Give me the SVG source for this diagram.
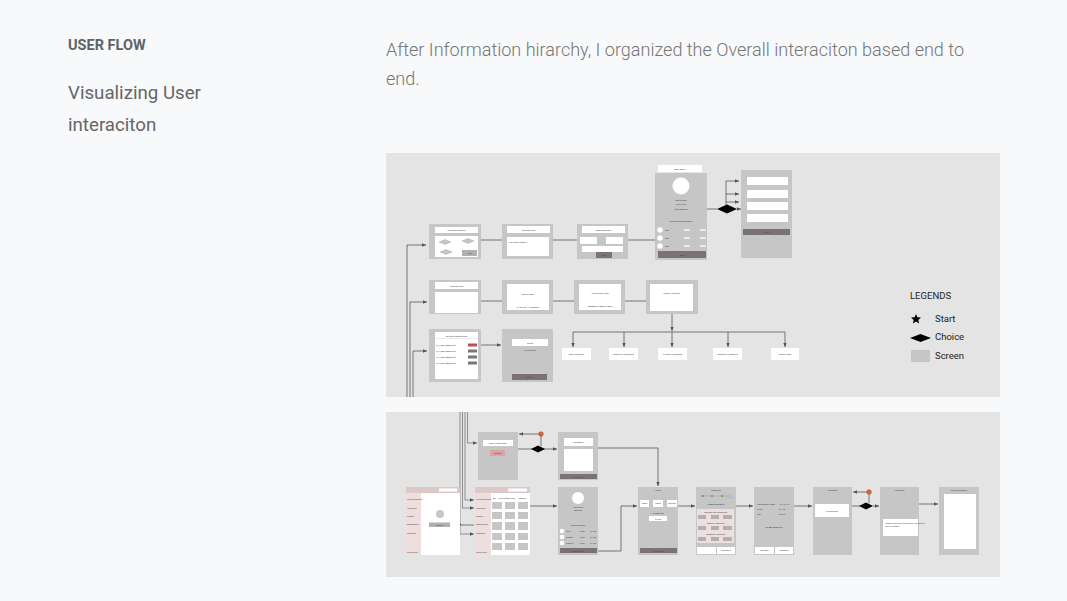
<svg xmlns="http://www.w3.org/2000/svg" width="1067" height="601" viewBox="0 0 1067 601">
<style>
.bg{fill:#f8f9fa}
.pnl{fill:#e4e4e4}
.scr{fill:#c6c6c6}
.wh{fill:#fff}
.btn{fill:#7b7373}
.pk{fill:#efdede}
.pk2{fill:#dcc8c8}
.g{fill:#b0b0b0}
.ln{stroke:#555;stroke-width:0.8;fill:none}
.lna{stroke:#555;stroke-width:0.8;fill:none;marker-end:url(#ah)}
.lnt{stroke:#555;stroke-width:0.6;fill:none;marker-end:url(#ah)}
.dia{fill:#000}
.t{font-family:Roboto,"Liberation Sans",sans-serif;font-size:2.4px;fill:#444;text-anchor:middle}
.tl{font-family:Roboto,"Liberation Sans",sans-serif;font-size:2.4px;fill:#444}
.lg{font-family:Roboto,"Liberation Sans",sans-serif;font-size:9.5px;fill:#222}
.hd{font-family:Roboto,"Liberation Sans",sans-serif}
</style>
<defs>
<marker id="ah" markerWidth="5" markerHeight="5" refX="4" refY="2.5" orient="auto" markerUnits="userSpaceOnUse">
<path d="M0,0.8 L4,2.5 L0,4.2 Z" fill="#555"/>
</marker>
</defs>
<rect class="bg" x="0" y="0" width="1067" height="601"/>
<g id="header">
<text class="hd" x="68" y="50" font-size="14.5" font-weight="bold" fill="#5f6368">USER FLOW</text>
<text class="hd" x="68" y="99" font-size="18.7" fill="#666">Visualizing User</text>
<text class="hd" x="68" y="131" font-size="18.7" fill="#666">interaciton</text>
<text class="hd" x="386" y="56" font-size="18.05" font-weight="300" fill="#757575">After Information hirarchy, I organized the Overall interaciton based end to</text>
<text class="hd" x="386" y="85" font-size="18.05" font-weight="300" fill="#757575">end.</text>
</g>
<rect class="pnl" x="386" y="153" width="614" height="244"/>
<rect class="pnl" x="386" y="412" width="614" height="165"/>

<g id="connectors">
<path class="lna" d="M407,397 V245 H426"/>
<path class="lna" d="M410,397 V302 H427"/>
<path class="lna" d="M413,397 V351 H427"/>
<path class="ln" d="M481,240 H502"/>
<path class="ln" d="M553,240 H577"/>
<path class="ln" d="M628,240 H655"/>
<path class="ln" d="M692,209 H717"/>
<path class="lna" d="M737,209 H741"/>
<path class="ln" d="M726,205 V181"/>
<path class="lna" d="M726,181 H739"/>
<path class="lna" d="M726,194 H739"/>
<path class="lna" d="M726,202 H739"/>
<path class="ln" d="M481,301 H502"/>
<path class="ln" d="M553,301 H574"/>
<path class="ln" d="M625,301 H646"/>
<path class="lna" d="M672,314 V331"/>
<path class="ln" d="M573,332 H785"/>
<path class="lna" d="M573,332 V347"/>
<path class="lna" d="M624,332 V347"/>
<path class="lna" d="M672,332 V347"/>
<path class="lna" d="M728,332 V347"/>
<path class="lna" d="M785,332 V347"/>
<path class="lna" d="M477,345 H501"/>
<path class="lnt" d="M460,412 V534 H474"/>
<path class="lnt" d="M462.5,412 V508 H474"/>
<path class="lnt" d="M465,412 V500 H474"/>
<path class="lnt" d="M467.5,412 V443 H477"/>
<path class="ln" d="M459,525 H474" stroke-width="0.6"/>
<path class="ln" d="M518,449 H533"/>
<path class="lna" d="M543,449 H557"/>
<path class="ln" d="M541,446 V434"/>
<path class="lna" d="M541,434 H519"/>
<path class="lna" d="M598,448 H658 V486"/>
<path class="lna" d="M530,506 H557"/>
<path class="lna" d="M598,551 H621 V506 H637"/>
<path class="lna" d="M678,506 H695"/>
<path class="lna" d="M736,506 H753"/>
<path class="lna" d="M794,506 H812"/>
<path class="ln" d="M852,506 H860"/>
<path class="lna" d="M873,506 H879"/>
<path class="ln" d="M869,503 V492"/>
<path class="lna" d="M869,492 H853"/>
<path class="lna" d="M919,504 H938"/>
</g>

<g id="diamonds">
<path class="dia" d="M717,209 L727,204.5 L737,209 L727,213.5 Z"/>
<path class="dia" d="M531,449 L538,445.5 L545,449 L538,452.5 Z"/>
<path class="dia" d="M859,506 L866,502.5 L873,506 L866,509.5 Z"/>
<circle cx="541" cy="434" r="2.3" fill="#d9663a" stroke="#a04020" stroke-width="0.5"/>
<circle cx="869" cy="492" r="2.3" fill="#d9663a" stroke="#a04020" stroke-width="0.5"/>
<path id="star1" d="M457,521 L458.2,523.8 L461.2,524 L458.9,526 L459.6,529 L457,527.4 L454.4,529 L455.1,526 L452.8,524 L455.8,523.8 Z" fill="#000"/>
</g>

<g id="n-personal">
<rect class="scr" x="429" y="224" width="52" height="35"/>
<rect class="wh" x="435" y="227" width="43" height="6"/>
<text class="t" x="456.5" y="231">Personal Options</text>
<rect class="wh" x="435" y="236" width="43" height="21"/>
<path d="M439,242 L445,239.5 L451,242 L445,244.5 Z" fill="#c6c6c6" stroke="#888" stroke-width="0.3"/>
<path d="M462,241 L468,238.5 L474,241 L468,243.5 Z" fill="#c6c6c6" stroke="#888" stroke-width="0.3"/>
<path d="M440,252 L446,249.5 L452,252 L446,254.5 Z" fill="#c6c6c6" stroke="#888" stroke-width="0.3"/>
<rect class="g" x="462" y="250" width="15" height="6"/>
<text class="t" x="469.5" y="254">add</text>
</g>
<g id="n-setgoals">
<rect class="scr" x="502" y="224" width="51" height="35"/>
<rect class="wh" x="507" y="226" width="43" height="7"/>
<text class="t" x="528.5" y="230.5">Set Business</text>
<rect class="wh" x="507" y="237" width="42" height="19"/>
<text class="tl" x="509" y="243">Set Goals Option</text>
</g>
<g id="n-addoption">
<rect class="scr" x="577" y="224" width="51" height="35"/>
<rect class="wh" x="582" y="226" width="43" height="7"/>
<text class="t" x="603.5" y="230.5">Add Employee</text>
<rect class="wh" x="580" y="237" width="17" height="7"/>
<rect class="wh" x="606" y="237" width="17" height="7"/>
<rect class="wh" x="582" y="246" width="41" height="6"/>
<rect class="btn" x="596" y="252" width="16" height="6"/>
<text class="t" x="604" y="256" fill="#eee">Add</text>
</g>
<g id="n-additems">
<rect class="wh" x="658" y="165" width="44" height="7"/>
<text class="t" x="680" y="169.5">Add Items</text>
<rect class="scr" x="655" y="173" width="52" height="87"/>
<circle class="wh" cx="681" cy="186" r="8.5"/>
<text class="t" x="681" y="201">Edit image</text>
<text class="t" x="681" y="205">Set Price</text>
<text class="t" x="681" y="210">Set Category</text>
<text class="t" x="681" y="222">Set Goals Description</text>
<circle class="wh" cx="660" cy="230" r="2.7"/>
<circle class="wh" cx="660" cy="238" r="2.7"/>
<circle class="wh" cx="660" cy="246" r="2.7"/>
<text class="tl" x="665" y="231">Edit</text>
<text class="tl" x="665" y="239">Edit</text>
<text class="tl" x="665" y="247">Edit</text>
<rect x="684" y="229" width="6" height="2" fill="#f3e6e6"/>
<rect x="684" y="237" width="6" height="2" fill="#f3e6e6"/>
<rect x="684" y="245" width="6" height="2" fill="#f3e6e6"/>
<rect x="700" y="229" width="6" height="2" fill="#f3e6e6"/>
<rect x="700" y="237" width="6" height="2" fill="#f3e6e6"/>
<rect x="700" y="245" width="6" height="2" fill="#f3e6e6"/>
<rect class="btn" x="658" y="251" width="48" height="7"/>
<text class="t" x="682" y="255.5" fill="#eee">Save</text>
</g>
<g id="n-category">
<rect class="scr" x="741" y="170" width="51" height="88"/>
<rect class="wh" x="747" y="177" width="41" height="8"/>
<rect class="wh" x="747" y="190" width="41" height="8"/>
<rect class="wh" x="747" y="202" width="41" height="8"/>
<rect class="wh" x="747" y="214" width="41" height="8"/>
<rect class="btn" x="743" y="229" width="47" height="6"/>
<text class="t" x="766.5" y="233" fill="#eee">Save</text>
</g>

<g id="n-transactions">
<rect class="scr" x="429" y="280" width="52" height="34"/>
<rect class="wh" x="435" y="282" width="43" height="7"/>
<text class="t" x="456.5" y="286.5">Transactions</text>
<rect class="wh" x="435" y="292" width="43" height="21"/>
</g>
<g id="n-gross">
<rect class="scr" x="502" y="280" width="51" height="34"/>
<rect class="wh" x="507" y="284" width="42" height="26"/>
<text class="t" x="528" y="295">Gross Sales</text>
<text class="t" x="528" y="308">$ 453.00 / 4 ORDERS</text>
</g>
<g id="n-topselling">
<rect class="scr" x="574" y="280" width="51" height="34"/>
<rect class="wh" x="579" y="284" width="42" height="26"/>
<text class="t" x="600" y="294">Top Selling Item</text>
<text class="t" x="600" y="307">CARAMEL MACCHIATO</text>
</g>
<g id="n-insights">
<rect class="scr" x="646" y="280" width="52" height="34"/>
<rect class="wh" x="650" y="284" width="43" height="27"/>
<text class="t" x="671.5" y="294">Weekly Insights</text>
</g>
<g id="n-new"><rect class="wh" x="562" y="348" width="29" height="12"/><text class="t" x="576.5" y="355">New Customer</text></g>
<g id="n-returning"><rect class="wh" x="609" y="348" width="29" height="12"/><text class="t" x="623.5" y="355">Returning Customer</text></g>
<g id="n-positive"><rect class="wh" x="658" y="348" width="29" height="12"/><text class="t" x="672.5" y="355">Positive Feedback</text></g>
<g id="n-negative"><rect class="wh" x="713" y="348" width="29" height="12"/><text class="t" x="727.5" y="355">Negative Feedback</text></g>
<g id="n-return"><rect class="wh" x="771" y="348" width="28" height="12"/><text class="t" x="785" y="355">Return Rate</text></g>

<g id="n-recent">
<rect class="scr" x="429" y="329" width="52" height="53"/>
<rect class="wh" x="435" y="332" width="43" height="47"/>
<line x1="435" y1="338.5" x2="478" y2="338.5" stroke="#ccc" stroke-width="0.4"/>
<text class="t" x="456.5" y="336.5">Recent Transactions</text>
<text class="tl" x="436" y="346">$17,000 (Approval)</text>
<text class="tl" x="436" y="352">$17,000 (Approval)</text>
<text class="tl" x="436" y="358">$17,000 (Approval)</text>
<text class="tl" x="436" y="364">$17,000 (Approval)</text>
<rect x="468" y="343.5" width="9" height="3" fill="#c0504d"/>
<rect x="468" y="349.5" width="9" height="3" fill="#777"/>
<rect x="468" y="355.5" width="9" height="3" fill="#777"/>
<rect x="468" y="361.5" width="9" height="3" fill="#777"/>
</g>
<g id="n-refund">
<rect class="scr" x="502" y="329" width="51" height="53"/>
<rect class="wh" x="512" y="339" width="36" height="7"/>
<text class="t" x="530" y="343.5">$0.00</text>
<text class="t" x="530" y="350.5">Full Refund</text>
<rect class="btn" x="512" y="374" width="35" height="6"/>
<text class="t" x="529.5" y="378" fill="#eee">Refund</text>
</g>

<g id="legend">
<text class="lg" x="910" y="299">LEGENDS</text>
<path d="M916,314 L917.4,317.3 L921,317.6 L918.3,319.9 L919.1,323.4 L916,321.6 L912.9,323.4 L913.7,319.9 L911,317.6 L914.6,317.3 Z" fill="#000"/>
<text class="lg" x="935" y="322">Start</text>
<path class="dia" d="M910,338 L920.5,334 L931,338 L920.5,342 Z"/>
<text class="lg" x="935" y="340">Choice</text>
<rect class="scr" x="911" y="350" width="19" height="12"/>
<text class="lg" x="935" y="359">Screen</text>
</g>

<g id="n-home">
<rect class="wh" x="406" y="487" width="54" height="68"/>
<rect class="pk2" x="406" y="487" width="54" height="6"/>
<rect class="wh" x="439" y="488.5" width="18" height="3"/>
<rect class="pk" x="406" y="493" width="15" height="62"/>
<text class="tl" x="407" y="500">Product/Menu</text>
<text class="tl" x="407" y="508.5">Inventory</text>
<text class="tl" x="407" y="517">Orders</text>
<text class="tl" x="407" y="525">Dashboard</text>
<text class="tl" x="407" y="533.5">Settings</text>
<text class="tl" x="407" y="552.5">Check out</text>
<circle cx="440" cy="514" r="4" fill="#c6c6c6"/>
<rect class="g" x="429" y="522.5" width="21" height="4.5"/>
<text class="t" x="439.5" y="525.8">Start it</text>
</g>
<g id="n-products">
<rect class="wh" x="475" y="487" width="55" height="68"/>
<rect class="pk2" x="475" y="487" width="55" height="6"/>
<rect class="wh" x="508" y="488.5" width="19" height="3"/>
<rect class="pk" x="475" y="493" width="16" height="62"/>
<text class="tl" x="476" y="500">Product/Menu</text>
<text class="tl" x="476" y="508.5">Inventory</text>
<text class="tl" x="476" y="517">Orders</text>
<text class="tl" x="476" y="525">Dashboard</text>
<text class="tl" x="476" y="533.5">Settings</text>
<text class="tl" x="476" y="552.5">Check out</text>
<text class="tl" x="493" y="499">All</text>
<text class="tl" x="498" y="499">Hot Coffee</text>
<text class="tl" x="510" y="499">Cold</text>
<text class="tl" x="519" y="499">Bakery</text>
<g fill="#c6c6c6">
<rect x="492" y="502" width="10" height="7"/><rect x="505" y="502" width="10" height="7"/><rect x="518" y="502" width="10" height="7"/>
<rect x="492" y="512" width="10" height="7"/><rect x="505" y="512" width="10" height="7"/><rect x="518" y="512" width="10" height="7"/>
<rect x="492" y="522" width="10" height="8"/><rect x="505" y="522" width="10" height="8"/><rect x="518" y="522" width="10" height="8"/>
<rect x="492" y="533" width="10" height="7"/><rect x="505" y="533" width="10" height="7"/><rect x="518" y="533" width="10" height="7"/>
<rect x="492" y="543" width="10" height="7"/><rect x="505" y="543" width="10" height="7"/><rect x="518" y="543" width="10" height="7"/>
</g>
</g>
<g id="n-editprofile">
<rect class="scr" x="478" y="432" width="40" height="48"/>
<rect class="wh" x="483" y="440" width="30" height="6"/>
<text class="t" x="498" y="444">Edit Profile Data</text>
<rect x="490" y="450" width="15" height="6" fill="#d9a3a3"/>
<text class="t" x="497.5" y="454" fill="#fff">Update</text>
</g>
<g id="n-summary">
<rect class="scr" x="558" y="432" width="40" height="48"/>
<rect class="wh" x="564" y="438" width="29" height="8"/>
<text class="t" x="578.5" y="442.5">Summary</text>
<rect class="wh" x="564" y="449" width="29" height="22"/>
<rect class="btn" x="560" y="474" width="37" height="5"/>
<text class="t" x="578.5" y="477.5" fill="#eee">Continue</text>
</g>
<g id="n-profile">
<rect class="scr" x="558" y="487" width="40" height="68"/>
<circle class="wh" cx="578" cy="498" r="6"/>
<text class="t" x="578" y="508">Jane Doe</text>
<text class="t" x="578" y="511">Barista</text>
<text class="t" x="578" y="526">Choose Sizes</text>
<circle class="wh" cx="562" cy="531" r="2.3"/>
<circle class="wh" cx="562" cy="537" r="2.3"/>
<circle class="wh" cx="562" cy="543" r="2.3"/>
<text class="tl" x="566" y="532">Milk</text>
<text class="tl" x="566" y="538">Sweet</text>
<text class="tl" x="566" y="544">Shot(s)</text>
<text class="tl" x="580" y="532">0.00</text>
<text class="tl" x="580" y="538">0.00</text>
<text class="tl" x="580" y="544">0.00</text>
<text class="tl" x="590" y="532">$1.00</text>
<text class="tl" x="590" y="538">$1.00</text>
<text class="tl" x="590" y="544">$1.00</text>
<rect class="btn" x="560" y="548" width="37" height="5"/>
<text class="t" x="578.5" y="551.5" fill="#eee">Add to cart</text>
</g>
<g id="n-shop">
<rect class="scr" x="638" y="487" width="40" height="68"/>
<text class="t" x="658" y="491">Shop</text>
<rect class="wh" x="640" y="500" width="9" height="7"/>
<rect class="wh" x="653" y="500" width="10" height="7"/>
<rect class="wh" x="667" y="500" width="10" height="7"/>
<text class="t" x="644.5" y="504">Latte</text>
<text class="t" x="658" y="504">Latte</text>
<text class="t" x="672" y="504">Mocha</text>
<text class="t" x="658" y="514">Customize</text>
<rect class="wh" x="649" y="516" width="18" height="5"/>
<text class="t" x="658" y="519.5">$4.50</text>
<rect class="btn" x="640" y="548" width="37" height="5"/>
<text class="t" x="658.5" y="551.5" fill="#eee">Checkout</text>
</g>
<g id="n-payment1">
<rect class="scr" x="696" y="487" width="40" height="68"/>
<text class="t" x="716" y="490.5">Payment</text>
<line x1="700" y1="496" x2="731" y2="496" stroke="#888" stroke-width="0.4"/>
<circle cx="703" cy="496" r="1" fill="#6a9a5a"/>
<circle cx="712" cy="496" r="1" fill="#6a9a5a"/>
<circle cx="722" cy="496" r="1" fill="#6a9a5a"/>
<rect x="729" y="497" width="5" height="2" fill="#a9bfe0"/>
<text class="t" x="716" y="505">STATE DETAILS</text>
<rect class="pk" x="697" y="509" width="37" height="34"/>
<text class="t" x="715.5" y="513">Choose your payment</text>
<rect class="g" x="698" y="515" width="8" height="4"/><rect class="g" x="711" y="515" width="8" height="4"/><rect class="g" x="723" y="515" width="9" height="4"/>
<text class="t" x="715.5" y="524">Mobile Payment</text>
<rect class="g" x="698" y="526" width="8" height="4"/><rect class="g" x="711" y="526" width="8" height="4"/><rect class="g" x="723" y="526" width="9" height="4"/>
<text class="t" x="715.5" y="535">Rewards Payment</text>
<rect class="g" x="698" y="537" width="8" height="4"/><rect class="g" x="711" y="537" width="8" height="4"/><rect class="g" x="723" y="537" width="9" height="4"/>
<rect class="wh" x="697" y="547" width="19" height="7"/>
<rect class="wh" x="717" y="547" width="18" height="7"/>
<text class="t" x="726" y="551">Payment</text>
</g>
<g id="n-review">
<rect class="scr" x="754" y="487" width="40" height="68"/>
<text class="tl" x="757" y="505">Transaction Date</text>
<text class="tl" x="779" y="505">10/12/19</text>
<text class="tl" x="757" y="510">Price</text>
<text class="tl" x="779" y="510">$7.40</text>
<text class="tl" x="757" y="515">Tax</text>
<text class="tl" x="779" y="515">$0.60</text>
<text class="t" x="774" y="528">TOTAL AMOUNT</text>
<rect class="wh" x="755" y="547" width="19" height="7"/>
<rect class="wh" x="775" y="547" width="18" height="7"/>
<text class="t" x="764.5" y="551">Go back</text>
<text class="t" x="784" y="551">Payment</text>
</g>
<g id="n-processing">
<rect class="scr" x="813" y="487" width="39" height="68"/>
<text class="t" x="832.5" y="490.5">Payment</text>
<rect class="wh" x="815" y="504" width="34" height="13"/>
<text class="t" x="832" y="511.5">Processing</text>
</g>
<g id="n-thanks">
<rect class="scr" x="880" y="487" width="39" height="68"/>
<text class="t" x="899.5" y="490.5">Payment</text>
<rect class="wh" x="883" y="519" width="35" height="17"/>
<text class="tl" x="885" y="523.5">Thank you! your receipt will be sent to</text>
<text class="tl" x="885" y="526.5">your by email</text>
</g>
<g id="n-ordersummary">
<rect class="scr" x="939" y="487" width="40" height="68"/>
<text class="t" x="959" y="490.5">Order Summary</text>
<rect class="wh" x="944" y="494" width="32" height="55"/>
</g>
</svg>
